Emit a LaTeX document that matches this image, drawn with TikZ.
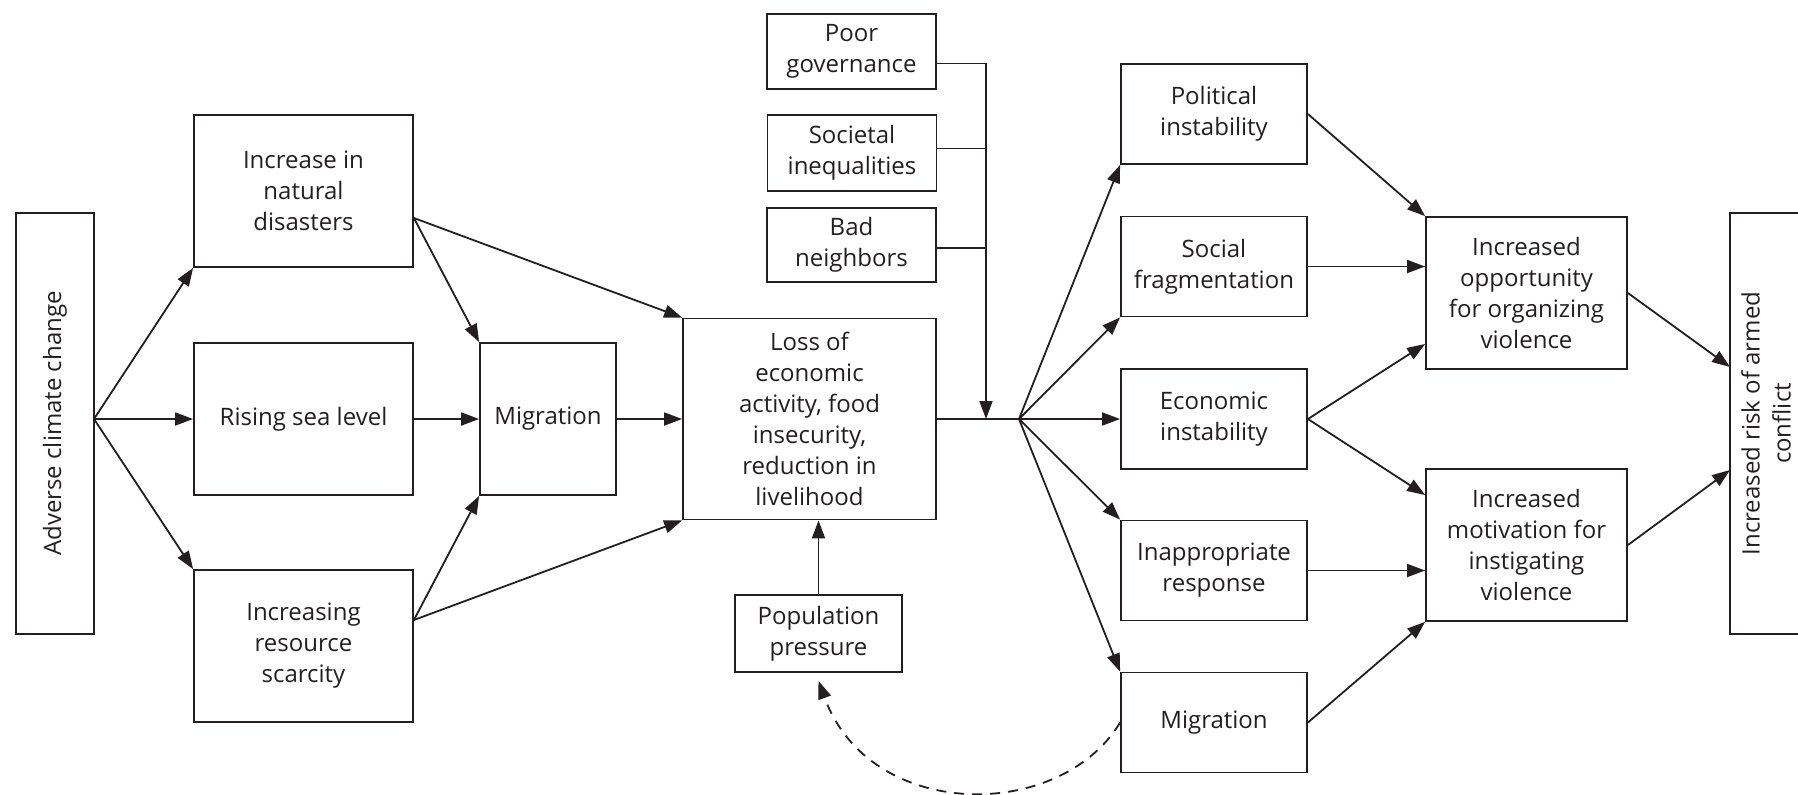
\documentclass[tikz,border=0pt]{standalone}
\usepackage{fontspec}
\setmainfont{Open Sans}
\usetikzlibrary{arrows.meta}
\definecolor{ink}{RGB}{35,31,32}
\begin{document}
\begin{tikzpicture}[x=0.5pt,y=-0.5pt,
  box/.style={draw=ink, line width=0.9pt, align=center, inner sep=0pt, text=ink,
    font=\fontsize{12}{15.5}\selectfont},
  ln/.style={draw=ink, line width=0.9pt},
  arr/.style={ln, -{Triangle[length=9pt,width=6.5pt]}}]
\useasboundingbox (0,0) rectangle (1798,794);
\clip (0,0) rectangle (1798,794);

% left part
\node[box, rotate=90, minimum width=210.5pt, minimum height=39pt] (adverse) at (55,423.5) {Adverse climate change};
\node[box, minimum width=109.5pt, minimum height=76pt] (disasters) at (303.5,191) {Increase in\\natural\\disasters};
\node[box, minimum width=109.5pt, minimum height=76pt] (sea) at (303.5,419) {Rising sea level};
\node[box, minimum width=109.5pt, minimum height=76pt] (scarcity) at (303.5,646) {Increasing\\resource\\scarcity};
\node[box, minimum width=68pt, minimum height=76pt] (mig1) at (548,419) {Migration};
\node[box, minimum width=126.5pt, minimum height=100.5pt] (loss) at (809.5,419) {Loss of\\economic\\activity, food\\insecurity,\\reduction in\\livelihood};

% top factors
\node[box, minimum width=84.5pt, minimum height=37.5pt] (poor) at (851.5,51.5) {Poor\\governance};
\node[box, minimum width=84.5pt, minimum height=38pt] (soc) at (852,153) {Societal\\inequalities};
\node[box, minimum width=84.5pt, minimum height=37pt] (bad) at (851.5,245) {Bad\\neighbors};
\node[box, minimum width=83.5pt, minimum height=38.5pt] (pop) at (818.5,633.5) {Population\\pressure};

% right column
\node[box, minimum width=93pt, minimum height=50pt] (pol) at (1214,114) {Political\\instability};
\node[box, minimum width=93pt, minimum height=50pt] (frag) at (1214,266.5) {Social\\fragmentation};
\node[box, minimum width=93pt, minimum height=50pt] (econ) at (1214,419) {Economic\\instability};
\node[box, minimum width=93pt, minimum height=50pt] (inapp) at (1214,570.5) {Inappropriate\\response};
\node[box, minimum width=93pt, minimum height=50pt] (mig2) at (1214,722.5) {Migration};

\node[box, minimum width=100.5pt, minimum height=76pt] (opp) at (1526.5,293) {Increased\\opportunity\\for organizing\\violence};
\node[box, minimum width=100.5pt, minimum height=76pt] (mot) at (1526.5,545) {Increased\\motivation for\\instigating\\violence};
\node[box, rotate=90, minimum width=210.5pt, minimum height=36pt] (risk) at (1766,423.5) {Increased risk of armed\\conflict};

% hubs and targets
\coordinate (hub1) at (94,419);
\coordinate (hub2) at (1019,419);
\coordinate (vdrop) at (986,419);
\coordinate (r1) at (1730,367);
\coordinate (r2) at (1730,470);

% connectors left
\draw[arr] (hub1) -- (disasters.south west);
\draw[arr] (hub1) -- (sea.west);
\draw[arr] (hub1) -- (scarcity.north west);
\draw[arr] ([yshift=-13.5pt]disasters.east) -- (mig1.north west);
\draw[arr] ([yshift=-13.5pt]disasters.east) -- (loss.north west);
\draw[arr] ([yshift=13pt]scarcity.east) -- (mig1.south west);
\draw[arr] ([yshift=13pt]scarcity.east) -- (loss.south west);
\draw[arr] (sea.east) -- (mig1.west);
\draw[arr] (mig1.east) -- (loss.west);
\draw[arr] (pop.north) -- (loss.south -| pop.north);

% moderating factors
\draw[ln] (loss.east) -- (hub2);
\draw[arr] ([yshift=-6pt]poor.east) -| (vdrop);
\draw[ln] ([yshift=2.25pt]soc.east) -- ([yshift=2.25pt]soc.east -| vdrop);
\draw[ln] ([yshift=-1.5pt]bad.east) -- ([yshift=-1.5pt]bad.east -| vdrop);

% fan out
\draw[arr] (hub2) -- (pol.south west);
\draw[arr] (hub2) -- (frag.south west);
\draw[arr] (hub2) -- (econ.west);
\draw[arr] (hub2) -- (inapp.north west);
\draw[arr] (hub2) -- (mig2.north west);

% to outcomes
\draw[arr] (pol.east) -- (opp.north west);
\draw[arr] (frag.east) -- (opp.west |- frag.east);
\draw[arr] (econ.east) -- ([yshift=-25.5pt]opp.west);
\draw[arr] (econ.east) -- ([yshift=25pt]mot.west);
\draw[arr] (inapp.east) -- (mot.west |- inapp.east);
\draw[arr] (mig2.east) -- (mot.south west);
\draw[arr] (opp.east) -- (r1);
\draw[arr] (mot.east) -- (r2);

% feedback
\draw[arr, dash pattern=on 5pt off 4pt] (mig2.west) .. controls (1060,822) and (870,822) .. ([yshift=-4pt]pop.south);
\end{tikzpicture}
\end{document}
